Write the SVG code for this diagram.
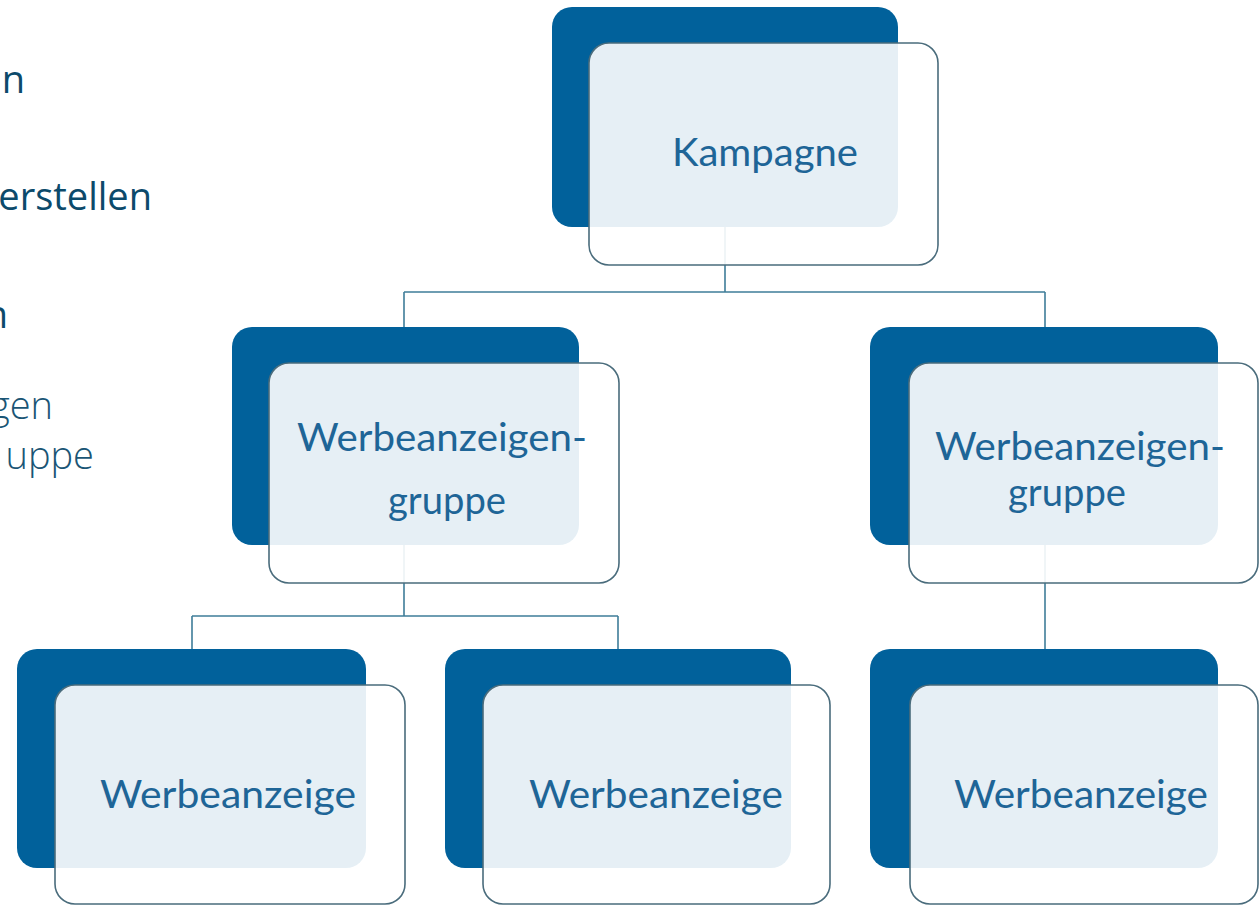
<svg xmlns="http://www.w3.org/2000/svg" width="1260" height="905" viewBox="0 0 1260 905">
<style>
.bg{fill:#ffffff}
.dark{fill:#01619b}
.front{fill:#ffffff;fill-opacity:0.9;stroke:#4a6c7c;stroke-width:1.6}
.lbl{font-family:Lato,"Liberation Sans",sans-serif;font-size:38px;fill:#1e6597;text-anchor:middle}
.side{font-family:"Open Sans","Liberation Sans",sans-serif;font-size:38px;fill:#0c4a6b;text-anchor:end}
.side.light{font-weight:300;fill:#1a5575}
.conn{fill:none;stroke:#3f7d99;stroke-width:1.6}
</style>
<rect class="bg" x="0" y="0" width="1260" height="905"/>
<g id="side-text">
<text class="side" x="25" y="93">n</text>
<text class="side" x="152" y="210">erstellen</text>
<text class="side" x="8" y="328">n</text>
<text class="side light" x="53" y="419">gen</text>
<text class="side light" x="94" y="469">uppe</text>
</g>
<g id="connectors">
<path class="conn" d="M725 226V292M404 292H1045M404 292V327M1045 292V327"/>
<path class="conn" d="M404 545V616M192 616H618M192 616V649M618 616V649"/>
<path class="conn" d="M1045 545V649"/>
</g>
<g id="kampagne">
<rect class="dark" x="552" y="7" width="346" height="220" rx="20"/>
<rect class="front" x="589" y="43" width="349" height="222" rx="20"/>
<text class="lbl" x="765" y="166" textLength="186" lengthAdjust="spacingAndGlyphs">Kampagne</text>
</g>
<g id="gruppe-left">
<rect class="dark" x="232" y="327" width="347" height="218" rx="20"/>
<rect class="front" x="269" y="363" width="350" height="220" rx="20"/>
<text class="lbl" x="442" y="451" textLength="290" lengthAdjust="spacingAndGlyphs">Werbeanzeigen-</text>
<text class="lbl" x="447" y="514" textLength="118" lengthAdjust="spacingAndGlyphs">gruppe</text>
</g>
<g id="gruppe-right">
<rect class="dark" x="870" y="327" width="348" height="218" rx="20"/>
<rect class="front" x="909" y="363" width="349" height="220" rx="20"/>
<text class="lbl" x="1080" y="460" textLength="290" lengthAdjust="spacingAndGlyphs">Werbeanzeigen-</text>
<text class="lbl" x="1067" y="506" textLength="118" lengthAdjust="spacingAndGlyphs">gruppe</text>
</g>
<g id="anzeige-1">
<rect class="dark" x="17" y="649" width="349" height="219" rx="20"/>
<rect class="front" x="55" y="685" width="350" height="219" rx="20"/>
<text class="lbl" x="228" y="808" textLength="256" lengthAdjust="spacingAndGlyphs">Werbeanzeige</text>
</g>
<g id="anzeige-2">
<rect class="dark" x="445" y="649" width="346" height="219" rx="20"/>
<rect class="front" x="483" y="685" width="347" height="219" rx="20"/>
<text class="lbl" x="656" y="808" textLength="254" lengthAdjust="spacingAndGlyphs">Werbeanzeige</text>
</g>
<g id="anzeige-3">
<rect class="dark" x="870" y="649" width="348" height="219" rx="20"/>
<rect class="front" x="910" y="685" width="348" height="219" rx="20"/>
<text class="lbl" x="1081" y="808" textLength="254" lengthAdjust="spacingAndGlyphs">Werbeanzeige</text>
</g>
</svg>
